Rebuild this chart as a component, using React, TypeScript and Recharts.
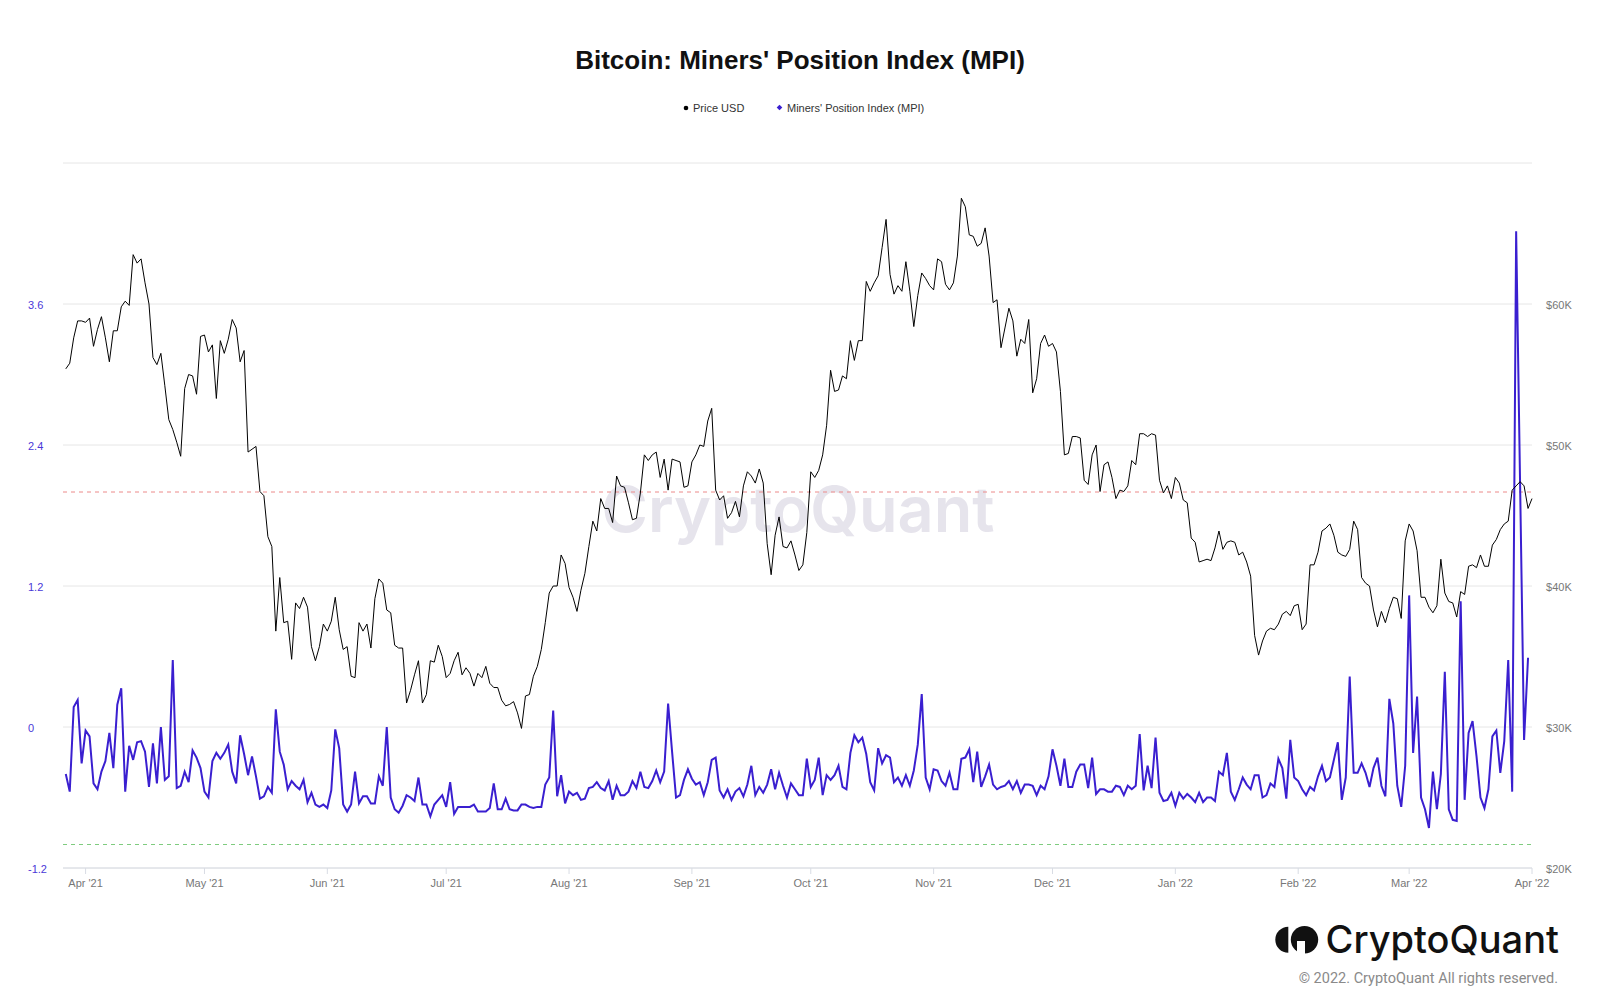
import { LineChart, Line, XAxis, YAxis, CartesianGrid, ReferenceLine } from 'recharts';

// BTC daily close in $K, one value per day from Mar 27 '21 (day 0) to Apr 1 '22 (day 370)
const priceUsdK: number[] = [
  // Mar 27-31 '21
  55.4, 55.8, 57.6, 58.8, 58.8,
  // Apr
  58.7, 59.0, 57.0, 58.2, 59.1, 57.6, 55.9, 58.1, 58.1, 59.8, 60.2, 59.9, 63.5, 62.9, 63.2,
  61.5, 60.0, 56.2, 55.7, 56.5, 54.2, 51.8, 51.1, 50.2, 49.2, 54.0, 55.0, 54.9, 53.6, 57.7,
  // May
  57.8, 56.6, 57.1, 53.3, 57.4, 56.5, 57.5, 58.9, 58.3, 55.9, 56.7, 49.5, 49.7, 49.9, 46.7, 46.4,
  43.5, 42.8, 36.8, 40.6, 37.4, 37.5, 34.8, 38.8, 38.4, 39.2, 38.5, 35.7, 34.7, 35.7, 37.3,
  // Jun
  36.8, 37.5, 39.2, 36.9, 35.5, 35.7, 33.6, 33.5, 37.4, 36.8, 37.3, 35.6, 39.1, 40.5, 40.2,
  38.3, 38.1, 35.8, 35.6, 35.6, 31.7, 32.6, 33.7, 34.7, 31.7, 32.3, 34.7, 34.6, 35.8, 35.0,
  // Jul
  33.5, 33.8, 34.7, 35.3, 33.7, 34.2, 33.8, 32.9, 33.8, 33.5, 34.3, 33.1, 32.8, 32.8, 31.9, 31.5,
  31.6, 31.8, 31.0, 29.9, 32.2, 32.3, 33.6, 34.3, 35.5, 37.4, 39.5, 40.0, 40.0, 42.2, 41.6,
  // Aug
  39.9, 39.2, 38.2, 39.7, 40.9, 42.8, 44.6, 43.9, 46.2, 45.5, 45.5, 44.5, 47.8, 47.1, 47.0, 45.9,
  44.7, 44.8, 46.6, 49.3, 48.9, 49.3, 49.5, 47.7, 49.0, 46.8, 49.0, 48.9, 48.8, 47.0, 47.1,
  // Sep
  48.8, 49.3, 50.0, 49.9, 51.7, 52.6, 46.8, 46.1, 46.4, 44.8, 45.2, 46.0, 44.9, 47.1, 48.1,
  47.8, 47.3, 48.3, 47.3, 43.0, 40.8, 43.6, 44.9, 42.8, 42.7, 43.2, 42.2, 41.1, 41.5, 43.8,
  // Oct
  48.1, 47.7, 48.2, 49.3, 51.4, 55.3, 53.8, 53.9, 54.9, 54.7, 57.4, 56.0, 57.4, 57.4, 61.6, 60.9,
  61.5, 62.0, 64.0, 66.0, 62.1, 60.7, 61.3, 60.9, 63.0, 60.9, 58.4, 60.6, 62.2, 61.8, 61.3,
  // Nov
  61.0, 63.2, 63.0, 61.4, 61.0, 61.5, 63.4, 67.5, 66.9, 64.9, 64.8, 64.1, 64.3, 65.4, 63.4,
  60.1, 60.3, 56.9, 58.3, 59.7, 58.8, 56.3, 57.5, 57.2, 58.9, 53.7, 54.7, 57.2, 57.8, 57.0,
  // Dec
  57.2, 56.6, 53.8, 49.3, 49.4, 50.6, 50.6, 50.5, 47.5, 47.2, 49.3, 50.0, 46.7, 48.6, 48.8, 47.7,
  46.2, 46.8, 46.7, 47.1, 48.9, 48.6, 50.8, 50.8, 50.6, 50.8, 50.7, 47.5, 46.6, 47.1, 46.2,
  // Jan '22
  47.7, 47.3, 46.1, 45.9, 43.4, 43.1, 41.7, 41.8, 41.9, 41.8, 42.7, 43.9, 42.6, 43.1, 43.2, 43.1,
  42.2, 42.4, 41.7, 40.7, 36.5, 35.1, 36.1, 36.8, 37.0, 36.9, 37.3, 38.0, 38.2, 37.9, 38.6,
  // Feb
  38.7, 36.9, 37.3, 41.5, 41.5, 42.4, 43.9, 44.1, 44.4, 43.6, 42.4, 42.2, 42.1, 42.6,
  44.6, 44.0, 40.6, 40.2, 40.0, 38.3, 37.1, 38.2, 37.4, 38.4, 39.2, 39.1, 37.7, 43.2,
  // Mar
  44.4, 43.9, 42.5, 39.2, 39.2, 38.5, 38.1, 38.6, 41.9, 39.5, 38.9, 38.8, 37.8, 39.6, 39.4, 41.4,
  41.5, 41.3, 42.2, 41.4, 41.4, 42.9, 43.3, 44.0, 44.4, 44.6, 46.8, 47.1, 47.4, 47.1, 45.5,
  // Apr 1 '22
  46.2,
];

// Miners' Position Index, day 0 .. day 369
const mpiValues: number[] = [
  -0.40, -0.55, 0.17, 0.23, -0.31, -0.03, -0.08, -0.48, -0.53, -0.38,
  -0.29, -0.05, -0.35, 0.19, 0.33, -0.55, -0.16, -0.28, -0.13, -0.12,
  -0.21, -0.51, -0.14, -0.48, 0.00, -0.45, -0.42, 0.57, -0.52, -0.50,
  -0.38, -0.47, -0.20, -0.26, -0.35, -0.55, -0.60, -0.29, -0.22, -0.27,
  -0.22, -0.15, -0.38, -0.48, -0.07, -0.23, -0.41, -0.25, -0.42, -0.61,
  -0.59, -0.51, -0.56, 0.15, -0.21, -0.32, -0.53, -0.46, -0.50, -0.53,
  -0.45, -0.64, -0.56, -0.66, -0.68, -0.66, -0.69, -0.54, -0.02, -0.18,
  -0.66, -0.72, -0.66, -0.38, -0.65, -0.59, -0.59, -0.65, -0.65, -0.42,
  -0.50, 0.00, -0.60, -0.70, -0.73, -0.67, -0.58, -0.60, -0.63, -0.43,
  -0.66, -0.66, -0.76, -0.66, -0.62, -0.58, -0.68, -0.47, -0.74, -0.68,
  -0.68, -0.68, -0.68, -0.66, -0.72, -0.72, -0.72, -0.69, -0.48, -0.70,
  -0.70, -0.61, -0.70, -0.71, -0.71, -0.66, -0.66, -0.68, -0.69, -0.68,
  -0.68, -0.49, -0.43, 0.14, -0.59, -0.41, -0.65, -0.55, -0.58, -0.56,
  -0.62, -0.61, -0.52, -0.51, -0.47, -0.52, -0.54, -0.46, -0.62, -0.50,
  -0.58, -0.58, -0.55, -0.46, -0.52, -0.38, -0.51, -0.52, -0.46, -0.37,
  -0.47, -0.38, 0.20, -0.21, -0.60, -0.58, -0.45, -0.36, -0.44, -0.49,
  -0.47, -0.58, -0.47, -0.28, -0.26, -0.54, -0.60, -0.53, -0.62, -0.55,
  -0.52, -0.59, -0.49, -0.33, -0.58, -0.51, -0.56, -0.49, -0.36, -0.53,
  -0.39, -0.50, -0.60, -0.48, -0.53, -0.58, -0.58, -0.27, -0.51, -0.45,
  -0.26, -0.58, -0.41, -0.45, -0.41, -0.33, -0.51, -0.53, -0.22, -0.07,
  -0.13, -0.09, -0.23, -0.47, -0.54, -0.18, -0.31, -0.24, -0.26, -0.47,
  -0.43, -0.50, -0.41, -0.50, -0.37, -0.15, 0.28, -0.43, -0.53, -0.36,
  -0.37, -0.46, -0.50, -0.39, -0.53, -0.53, -0.27, -0.26, -0.19, -0.47,
  -0.21, -0.51, -0.42, -0.32, -0.49, -0.53, -0.51, -0.50, -0.46, -0.53,
  -0.46, -0.56, -0.49, -0.49, -0.50, -0.58, -0.50, -0.53, -0.42, -0.19,
  -0.33, -0.50, -0.27, -0.51, -0.51, -0.38, -0.32, -0.32, -0.52, -0.26,
  -0.57, -0.53, -0.53, -0.55, -0.55, -0.50, -0.51, -0.58, -0.50, -0.53,
  -0.50, -0.06, -0.54, -0.33, -0.52, -0.09, -0.56, -0.63, -0.62, -0.56,
  -0.67, -0.56, -0.61, -0.57, -0.60, -0.64, -0.56, -0.64, -0.60, -0.60,
  -0.63, -0.38, -0.41, -0.22, -0.55, -0.62, -0.53, -0.43, -0.49, -0.53,
  -0.41, -0.41, -0.60, -0.58, -0.48, -0.51, -0.27, -0.35, -0.61, -0.11,
  -0.43, -0.46, -0.53, -0.58, -0.51, -0.54, -0.42, -0.33, -0.46, -0.43,
  -0.28, -0.13, -0.62, -0.43, 0.43, -0.39, -0.39, -0.31, -0.39, -0.51,
  -0.35, -0.26, -0.50, -0.59, 0.24, 0.03, -0.50, -0.68, -0.33, 1.12,
  -0.22, 0.26, -0.60, -0.70, -0.86, -0.38, -0.70, -0.40, 0.47, -0.70,
  -0.79, -0.80, 1.07, -0.62, -0.05, 0.05, -0.25, -0.60, -0.69, -0.53,
  -0.08, -0.03, -0.39, -0.12, 0.57, -0.55, 4.22, 2.06, -0.11, 0.59,
];

const monthTicks = [5, 35, 66, 96, 127, 158, 188, 219, 249, 280, 311, 339, 370];
const monthLabels = [
  "Apr '21", "May '21", "Jun '21", "Jul '21", "Aug '21", "Sep '21", "Oct '21",
  "Nov '21", "Dec '21", "Jan '22", "Feb '22", "Mar '22", "Apr '22",
];
const mpiTicks = [-1.2, 0, 1.2, 2.4, 3.6, 4.8];
const priceTicks = [20, 30, 40, 50, 60, 70];

const MPI_COLOR = '#3a1fd0';
const FONT = '"Liberation Sans", Arial, Helvetica, sans-serif';

const data = priceUsdK.map((p, i) => ({
  day: i,
  price: p,
  mpi: i < mpiValues.length ? mpiValues[i] : null,
}));

const LeftTick = (props: any) => {
  const v = props.payload.value;
  if (v === 4.8) return <g />;
  return (
    <text x={28} y={props.y} dy={4.5} fill="#4a38d8" fontSize={11} fontFamily={FONT}>
      {v === 0 ? '0' : v.toFixed(1)}
    </text>
  );
};

const RightTick = (props: any) => {
  const v = props.payload.value;
  if (v === 70) return <g />;
  return (
    <text x={1546} y={props.y} dy={4.5} fill="#777" fontSize={11} fontFamily={FONT}>
      ${v}K
    </text>
  );
};

const BottomTick = (props: any) => {
  const idx = monthTicks.indexOf(props.payload.value);
  return (
    <text x={props.x} y={props.y + 11} textAnchor="middle" fill="#777" fontSize={11} fontFamily={FONT}>
      {monthLabels[idx]}
    </text>
  );
};

export default function App() {
  return (
    <div style={{ position: 'absolute', left: 0, top: 0, width: 1600, height: 1008, background: '#fff', overflow: 'hidden' }}>
      {/* watermark sits behind the lines */}
      <svg width={1600} height={1008} style={{ position: 'absolute', left: 0, top: 0 }}>
        <text x={798} y={532} textAnchor="middle" fontSize={63} fontWeight={600} fontFamily="Inter, sans-serif" fill="#e6e4ec">
          CryptoQuant
        </text>
      </svg>

      <div style={{ position: 'absolute', left: 0, top: 0 }}>
        <LineChart width={1600} height={1008} data={data} margin={{ top: 163, right: 0, bottom: 110, left: 0 }}>
          <CartesianGrid yAxisId="mpi" vertical={false} stroke="#e6e6e6" />
          <XAxis
            dataKey="day"
            type="number"
            domain={[-0.7, 370]}
            ticks={monthTicks}
            interval={0}
            tick={<BottomTick />}
            tickSize={6}
            tickMargin={2}
            stroke="#d8dce4"
            height={30}
          />
          <YAxis
            yAxisId="mpi"
            orientation="left"
            width={63}
            domain={[-1.2, 4.8]}
            ticks={mpiTicks}
            interval={0}
            tick={<LeftTick />}
            axisLine={false}
            tickLine={false}
          />
          <YAxis
            yAxisId="price"
            orientation="right"
            width={68}
            domain={[20, 70]}
            ticks={priceTicks}
            interval={0}
            tick={<RightTick />}
            axisLine={false}
            tickLine={false}
          />
          <ReferenceLine yAxisId="mpi" y={2} stroke="#ec8a8a" strokeDasharray="4 4" />
          <ReferenceLine yAxisId="mpi" y={-1} stroke="#7fcc7f" strokeDasharray="4 4" />
          <Line
            yAxisId="mpi"
            dataKey="mpi"
            stroke={MPI_COLOR}
            strokeWidth={2}
            dot={false}
            isAnimationActive={false}
            type="linear"
          />
          <Line
            yAxisId="price"
            dataKey="price"
            stroke="#000"
            strokeWidth={1}
            dot={false}
            isAnimationActive={false}
            type="linear"
          />
        </LineChart>
      </div>

      {/* title, legend and branding */}
      <svg width={1600} height={1008} style={{ position: 'absolute', left: 0, top: 0, pointerEvents: 'none' }}>
        <text x={800} y={69} textAnchor="middle" fontSize={26} fontWeight="bold" fontFamily={FONT} fill="#111">
          Bitcoin: Miners' Position Index (MPI)
        </text>

        <circle cx={686} cy={108} r={2.3} fill="#000" />
        <text x={693} y={112} fontSize={11} fontFamily={FONT} fill="#333">Price USD</text>
        <rect x={777.5} y={105.5} width={4} height={4} fill={MPI_COLOR} transform="rotate(45 779.5 107.5)" />
        <text x={787} y={112} fontSize={11} fontFamily={FONT} fill="#333">Miners' Position Index (MPI)</text>

        {/* CryptoQuant logo mark */}
        <path d="M1288.3 926.7 A13 13 0 0 0 1288.3 952.7 Z" fill="#111" />
        <circle cx={1304.5} cy={939.7} r={13.7} fill="#111" />
        <rect x={1297} y={941} width={8} height={14} fill="#fff" />
        <text x={1559} y={953} textAnchor="end" fontSize={38} fontWeight={500} fontFamily="Inter, sans-serif" fill="#111">
          CryptoQuant
        </text>
        <text x={1558} y={983} textAnchor="end" fontSize={14.5} fontFamily="Roboto, sans-serif" fill="#8a8a8a">
          © 2022. CryptoQuant All rights reserved.
        </text>
      </svg>
    </div>
  );
}
